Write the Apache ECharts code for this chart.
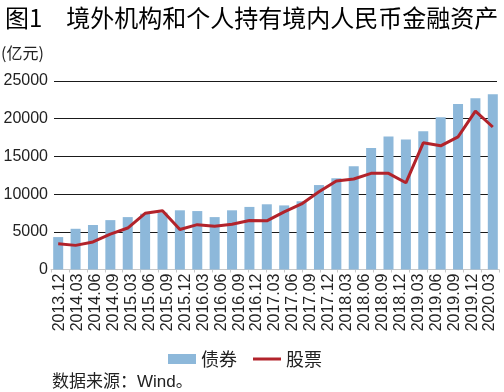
<!DOCTYPE html>
<html>
<head>
<meta charset="utf-8">
<script src="https://cdn.jsdelivr.net/npm/echarts@6/dist/echarts.min.js"></script>
<style>
html,body{margin:0;padding:0;background:#fff;}
#chart{width:504px;height:392px;}
</style>
</head>
<body>
<div id="chart"></div>
<script>
// Data categories (26 quarters plotted)
var categories = ['2013.12','2014.03','2014.06','2014.09','2014.12','2015.03','2015.06','2015.09','2015.12','2016.03','2016.06','2016.09','2016.12','2017.03','2017.06','2017.09','2017.12','2018.03','2018.06','2018.09','2018.12','2019.03','2019.06','2019.09','2019.12','2020.03'];
// Tick labels as printed on the reference (25 labels)
var tickLabels = ['2013.12','2014.03','2014.06','2014.09','2015.03','2015.06','2015.09','2015.12','2016.03','2016.06','2016.09','2016.12','2017.03','2017.06','2017.09','2017.12','2018.03','2018.06','2018.09','2018.12','2019.03','2019.06','2019.09','2019.12','2020.03'];
var bonds = [4300,5400,5900,6550,6950,7400,7550,7850,7750,6950,7850,8300,8650,8500,9050,11200,12100,13700,16100,17650,17250,18350,20200,21950,22700,23250];
var stocks = [3400,3200,3650,4700,5500,7450,7800,5300,5950,5750,6000,6500,6450,7650,8700,10300,11750,12000,12750,12750,11500,16800,16400,17600,21000,18900];
var yTicks = [0,5000,10000,15000,20000,25000];

var chart = echarts.init(document.getElementById('chart'), null, {renderer:'canvas'});
var cjk = '"Noto Sans CJK SC", sans-serif';
var num = '"Liberation Sans", Arial, sans-serif';
var gTop = 81, gBottom = 392 - 269.5;
var option = {
  animation: false,
  backgroundColor: '#fff',
  title: {
    text: '图1　境外机构和个人持有境内人民币金融资产',
    left: 0, top: 1,
    textStyle: {fontFamily: cjk, fontSize: 24, fontWeight: 'normal', color: '#000'}
  },
  graphic: [
    {type:'text', left: 1, top: 45, style:{text:'(亿元)', font:'16px ' + cjk, fill:'#222'}},
    {type:'text', left: 52, top: 374, style:{text:'数据来源：Wind。', font:'17px "Liberation Sans", "Noto Sans CJK SC", sans-serif', fill:'#222'}}
  ],
  legend: {
    left: 163, top: 345,
    itemWidth: 28, itemHeight: 10, itemGap: 16,
    textStyle: {fontFamily: cjk, fontSize: 18, color: '#222'},
    data: [
      {name:'债券', icon:'rect'},
      {name:'股票', icon:'path://M0,0L0,0M0,3.5L28,3.5L28,6.5L0,6.5ZM28,10L28,10'}
    ]
  },
  grid: [
    {left: 49.5, right: 2.5, top: gTop, bottom: gBottom},
    {left: 54, right: 7, top: gTop, bottom: gBottom},
    {left: 51, right: 5, top: gTop, bottom: gBottom}
  ],
  xAxis: [
    {type:'category', gridIndex:0, data: categories, show:false},
    {type:'value', gridIndex:1, show:false},
    {type:'category', gridIndex:2, data: tickLabels, boundaryGap:true,
     axisLine:{show:true, lineStyle:{color:'#c8c8c8', width:1}},
     axisTick:{show:true, length:3, lineStyle:{color:'#c8c8c8'}},
     axisLabel:{rotate:90, interval:0, margin:4, fontFamily:num, fontSize:16, color:'#222'}}
  ],
  yAxis: [
    {type:'value', gridIndex:0, min:0, max:25000, interval:5000, show:false},
    {type:'value', gridIndex:1, min:0, max:25000, interval:5000,
     axisLine:{show:false}, axisTick:{show:false},
     splitLine:{show:true, lineStyle:{color:'#1a1a1a', width:1}},
     axisLabel:{margin:6, fontFamily:num, fontSize:16, color:'#222',
       formatter:function(v){return yTicks.indexOf(v) >= 0 ? String(v) : '';}}},
    {type:'value', gridIndex:2, show:false}
  ],
  series: [
    {name:'债券', type:'bar', xAxisIndex:0, yAxisIndex:0, data: bonds, barWidth:10,
     itemStyle:{color:'#8db8da'}, z:3},
    {name:'股票', type:'line', xAxisIndex:0, yAxisIndex:0, data: stocks,
     symbol:'none', showSymbol:false,
     lineStyle:{color:'#b2232b', width:3}, itemStyle:{color:'#b2232b'}, z:4}
  ]
};
chart.setOption(option);
</script>
</body>
</html>
